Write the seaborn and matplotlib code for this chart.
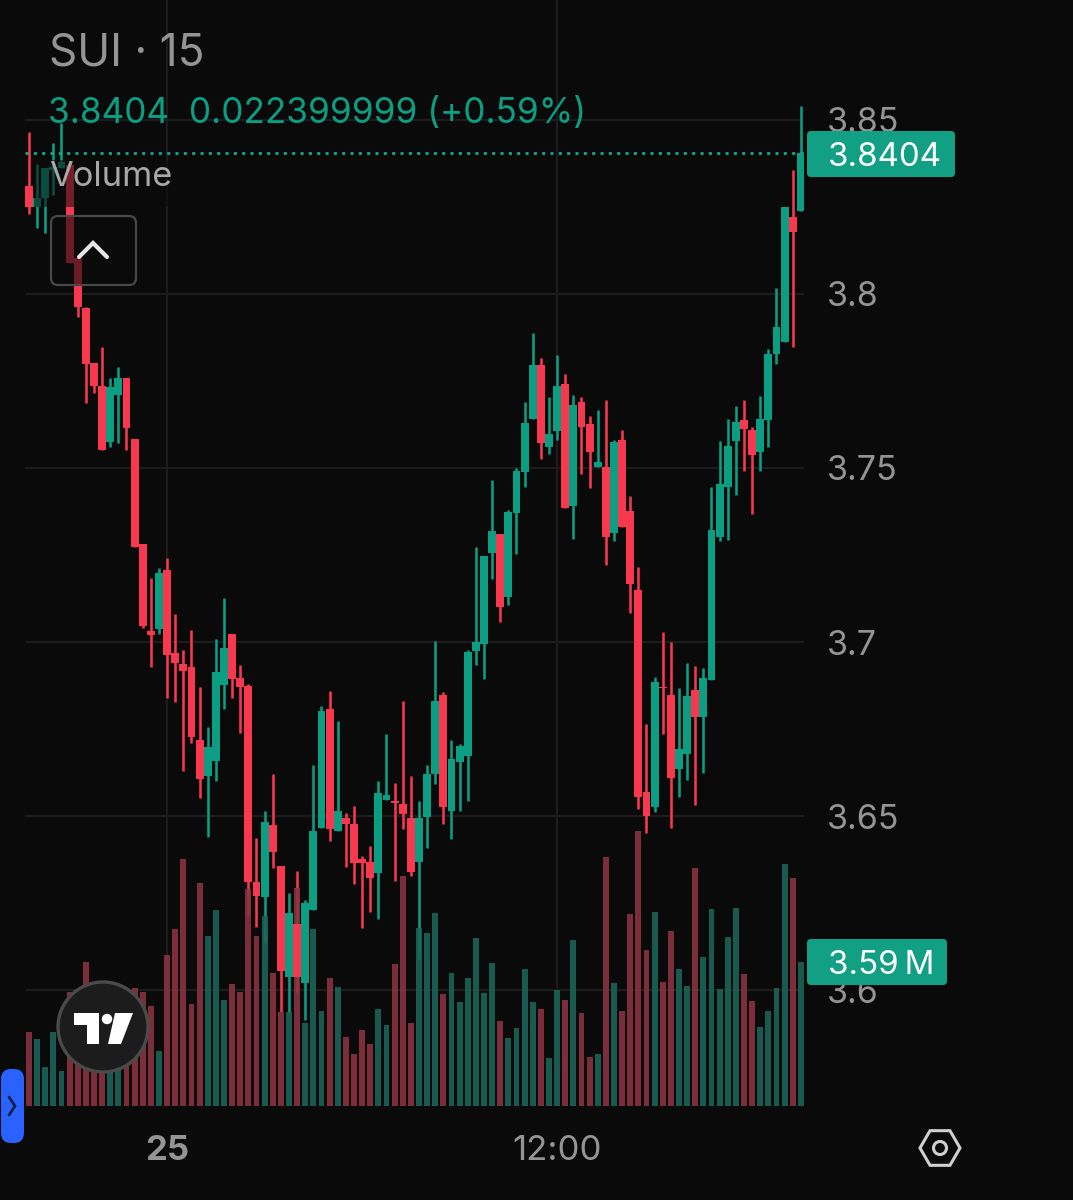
import matplotlib
matplotlib.use('Agg')
import matplotlib.pyplot as plt
from matplotlib.patches import Circle, FancyBboxPatch, Polygon, Rectangle, RegularPolygon
import numpy as np
import pandas as pd
import seaborn as sns

# SUI 15m candles
opens = [3.8310, 3.8250, 3.8276, 3.8356, 3.8362, 3.8371, 3.8103, 3.7960, 3.7802, 3.7736, 3.7575, 3.7710,
         3.7759, 3.7583, 3.7282, 3.7032, 3.7037, 3.7207, 3.6968, 3.6937, 3.6928, 3.6718, 3.6615, 3.6658,
         3.6876, 3.7023, 3.6897, 3.6874, 3.6310, 3.6267, 3.6474, 3.6356, 3.6037, 3.6190, 3.6020, 3.6230,
         3.6466, 3.6807, 3.6457, 3.6494, 3.6477, 3.6376, 3.6368, 3.6336, 3.6546, 3.6543, 3.6534, 3.6494,
         3.6368, 3.6497, 3.6621, 3.6848, 3.6514, 3.6655, 3.6672, 3.6974, 3.6994, 3.7256, 3.7310, 3.7129,
         3.7371, 3.7489, 3.7641, 3.7796, 3.7560, 3.7606, 3.7741, 3.7391, 3.7690, 3.7626, 3.7503, 3.7503,
         3.7313, 3.7580, 3.7376, 3.7149, 3.6569, 3.6526, 3.6871, 3.6848, 3.6635, 3.6678, 3.6862, 3.6784,
         3.6891, 3.7302, 3.7445, 3.7578, 3.7638, 3.7609, 3.7546, 3.7638, 3.7828, 3.7862, 3.8221, 3.8239]
closes = [3.8250, 3.8276, 3.8362, 3.8365, 3.8379, 3.8089, 3.7963, 3.7799, 3.7736, 3.7552, 3.7733, 3.7759,
          3.7615, 3.7273, 3.7046, 3.7020, 3.7198, 3.6963, 3.6940, 3.6917, 3.6727, 3.6606, 3.6698, 3.6914,
          3.6983, 3.6894, 3.6871, 3.6310, 3.6270, 3.6483, 3.6397, 3.6055, 3.6221, 3.6037, 3.6250, 3.6457,
          3.6802, 3.6463, 3.6514, 3.6477, 3.6365, 3.6365, 3.6322, 3.6566, 3.6560, 3.6537, 3.6506, 3.6339,
          3.6494, 3.6621, 3.6830, 3.6526, 3.6664, 3.6701, 3.6971, 3.7000, 3.7247, 3.7319, 3.7101, 3.7374,
          3.7491, 3.7629, 3.7796, 3.7572, 3.7598, 3.7736, 3.7385, 3.7681, 3.7618, 3.7546, 3.7517, 3.7302,
          3.7575, 3.7330, 3.7167, 3.6555, 3.6500, 3.6885, 3.6868, 3.6609, 3.6692, 3.6845, 3.6784, 3.6897,
          3.7322, 3.7454, 3.7563, 3.7632, 3.7612, 3.7537, 3.7641, 3.7828, 3.7905, 3.8250, 3.8178, 3.8404]
highs = [3.8466, 3.8374, 3.8362, 3.8434, 3.8491, 3.8374, 3.8103, 3.7963, 3.7802, 3.7848, 3.7759, 3.7790,
         3.7759, 3.7583, 3.7282, 3.7184, 3.7213, 3.7241, 3.7080, 3.6977, 3.7034, 3.6871, 3.6756, 3.7009,
         3.7126, 3.7023, 3.6934, 3.6879, 3.6437, 3.6514, 3.6621, 3.6356, 3.6279, 3.6342, 3.6259, 3.6646,
         3.6816, 3.6859, 3.6773, 3.6509, 3.6529, 3.6385, 3.6414, 3.6601, 3.6736, 3.6595, 3.6830, 3.6615,
         3.6543, 3.6646, 3.7003, 3.6856, 3.6718, 3.6707, 3.6977, 3.7273, 3.7247, 3.7466, 3.7310, 3.7379,
         3.7500, 3.7690, 3.7888, 3.7816, 3.7704, 3.7825, 3.7770, 3.7710, 3.7704, 3.7649, 3.7667, 3.7695,
         3.7580, 3.7609, 3.7420, 3.7216, 3.6764, 3.6899, 3.7029, 3.7000, 3.6868, 3.6940, 3.6931, 3.6925,
         3.7445, 3.7578, 3.7641, 3.7678, 3.7695, 3.7618, 3.7707, 3.7842, 3.8017, 3.8250, 3.8356, 3.8540]
lows = [3.8230, 3.8190, 3.8175, 3.8284, 3.8362, 3.8089, 3.7934, 3.7687, 3.7716, 3.7552, 3.7560, 3.7572,
        3.7552, 3.7273, 3.7040, 3.6928, 3.7023, 3.6839, 3.6828, 3.6629, 3.6710, 3.6552, 3.6440, 3.6601,
        3.6807, 3.6839, 3.6738, 3.6216, 3.6181, 3.6135, 3.6351, 3.5937, 3.5934, 3.5994, 3.5914, 3.6230,
        3.6466, 3.6428, 3.6457, 3.6353, 3.6305, 3.6178, 3.6224, 3.6204, 3.6546, 3.6313, 3.6463, 3.6328,
        3.6089, 3.6408, 3.6592, 3.6477, 3.6434, 3.6514, 3.6543, 3.6934, 3.6894, 3.7181, 3.7057, 3.7106,
        3.7253, 3.7445, 3.7641, 3.7526, 3.7540, 3.7580, 3.7385, 3.7296, 3.7483, 3.7442, 3.7503, 3.7221,
        3.7290, 3.7330, 3.7083, 3.6520, 3.6451, 3.6511, 3.6736, 3.6466, 3.6555, 3.6603, 3.6532, 3.6624,
        3.6891, 3.7290, 3.7293, 3.7422, 3.7491, 3.7368, 3.7491, 3.7560, 3.7799, 3.7862, 3.7848, 3.8239]
# volume in millions
volumes = [1.85, 1.67, 0.97, 1.85, 0.87, 2.84, 2.52, 3.59, 2.64, 2.14, 1.90, 1.77,
           2.64, 2.94, 2.84, 2.49, 1.37, 3.77, 4.41, 6.16, 2.54, 5.56, 4.24, 4.89,
           2.64, 3.04, 2.84, 5.41, 4.24, 4.74, 3.32, 2.34, 2.34, 5.44, 2.07, 4.41,
           2.37, 3.19, 2.97, 1.72, 1.30, 1.90, 1.55, 2.42, 2.02, 3.54, 5.74, 2.07,
           4.44, 4.31, 4.81, 2.79, 3.32, 2.59, 3.19, 4.19, 2.82, 3.57, 2.12, 1.70,
           1.95, 3.42, 2.59, 2.42, 1.20, 2.89, 2.64, 4.14, 2.32, 1.22, 1.30, 6.21,
           3.07, 2.37, 4.79, 6.86, 3.89, 4.84, 3.09, 4.36, 3.42, 2.99, 5.94, 3.72,
           4.91, 2.92, 4.21, 4.94, 3.29, 2.62, 1.97, 2.37, 2.94, 6.03, 5.69, 3.59]

price_ticks = [3.6, 3.65, 3.7, 3.75, 3.8, 3.85]
price_labels = ['3.6', '3.65', '3.7', '3.75', '3.8', '3.85']
time_ticks = [17, 65]
time_labels = ['25', '12:00']

BG = '#0a0a0a'
GREEN = '#0b9e83'
RED = '#f8384f'
VOL_GREEN = '#1b6659'
VOL_RED = '#8c3340'
GRID = '#1c1c1c'
TEXT = '#949494'
LABEL = '#12a085'

W, H = 1073, 1200

sns.set_theme(style='dark', rc={'figure.facecolor': BG, 'axes.facecolor': BG, 'savefig.facecolor': BG})
plt.rcParams['font.family'] = ['Inter', 'DejaVu Sans']

df = pd.DataFrame({'i': np.arange(len(opens)), 'open': opens, 'high': highs, 'low': lows,
                   'close': closes, 'volume': volumes})
df['side'] = np.where(df['close'] >= df['open'], 'up', 'down')
df['top'] = df[['open', 'close']].max(axis=1)
df['bottom'] = df[['open', 'close']].min(axis=1)

fig = plt.figure(figsize=(W / 100, H / 100), dpi=100)
rect = [25 / W, (H - 1106) / H, 779 / W, 1106 / H]

# price axis: grid and wicks
ax = fig.add_axes(rect)
x_lim = (-0.49, 95.39)
price_lim = (3.56667, 3.88448)
ax.set_xlim(x_lim)
ax.set_ylim(price_lim)
for spine in ax.spines.values():
    spine.set_visible(False)
ax.hlines(price_ticks, *x_lim, color=GRID, lw=1.6, zorder=1)
ax.vlines(time_ticks, *price_lim, color=GRID, lw=1.6, zorder=1)
side_colors = df['side'].map({'up': GREEN, 'down': RED})
ax.vlines(df['i'], df['low'], df['high'], colors=side_colors, lw=1.85, zorder=2)
ax.hlines(closes[-1], *x_lim, color='#12a98c', lw=2.0, linestyles=(0, (1.1, 1.9)), zorder=2)

# volume sits over the wicks but under the bodies
ax_vol = ax.twinx()
ax_vol.patch.set_visible(False)
sns.barplot(data=df, x='i', y='volume', hue='side', palette={'up': VOL_GREEN, 'down': VOL_RED},
            native_scale=True, dodge=False, width=0.72, errorbar=None, saturation=1,
            alpha=0.88, linewidth=0, legend=False, ax=ax_vol)
ax_vol.set_ylim(0, 27.58)
ax_vol.set_xlim(x_lim)
ax_vol.axis('off')

ax_body = ax.twinx()
ax_body.patch.set_visible(False)
ax_body.set_ylim(price_lim)
ax_body.bar(df['i'], df['top'] - df['bottom'], bottom=df['bottom'], width=0.97,
            color=side_colors, linewidth=0)
ax_body.axis('off')

# twinx flips the ticks to the left, so set them once the twins exist
ax.yaxis.tick_right()
ax.set_yticks(price_ticks, price_labels)
ax.set_xticks(time_ticks, time_labels)
ax.tick_params(axis='y', length=0, pad=16.5, labelsize=24.5, labelcolor=TEXT)
ax.tick_params(axis='x', length=0, pad=21, labelsize=25, labelcolor=TEXT)
ax.get_xticklabels()[0].set_fontweight('bold')

# everything that belongs to the app UI, in pixels
ui = fig.add_axes([0, 0, 1, 1], facecolor='none')
ui.set_xlim(0, W)
ui.set_ylim(H, 0)
ui.axis('off')

ui.text(49, 53, 'SUI · 15', color=TEXT, fontsize=31.8, va='center')
ui.text(48, 113, '3.8404  0.022399999 (+0.59%)', color=GREEN, fontsize=25.3, va='center')

# legend row dims what is under it
ui.add_patch(Rectangle((34, 160), 138, 47, color=BG, alpha=0.55, lw=0))
ui.text(49, 177, 'Volume', color='#a8a8a8', fontsize=24.8, va='center')
ui.add_patch(FancyBboxPatch((51, 216), 85, 69, boxstyle='round,pad=0,rounding_size=7',
                            fc=BG + '99', ec='#484848', lw=1.6))
ui.plot([79, 93, 107], [257, 243, 257], color='#e6e6e6', lw=3, solid_capstyle='round',
        solid_joinstyle='miter')

# price and volume tags
ui.add_patch(FancyBboxPatch((807, 131), 148, 46, boxstyle='round,pad=0,rounding_size=4', fc=LABEL, ec='none'))
ui.text(828, 157, f'{closes[-1]:.4f}', color='white', fontsize=23.8, va='center')
ui.add_patch(FancyBboxPatch((807, 939), 140, 46, boxstyle='round,pad=0,rounding_size=4', fc=LABEL, ec='none'))
ui.text(828, 965, f'{volumes[-1]:.2f}\u2009M', color='white', fontsize=23.8, va='center')

# logo badge
ui.add_patch(Circle((103, 1027), 45, fc='#1c1c1c', ec='#4a4a4a', lw=2.4))
ui.add_patch(Polygon([(74, 1013), (99, 1013), (99, 1044), (87, 1044), (87, 1025), (74, 1025)], fc='white', ec='none'))
ui.add_patch(Circle((107, 1019), 5.2, fc='white', ec='none'))
ui.add_patch(Polygon([(115, 1013), (133, 1013), (121, 1044), (108, 1044)], fc='white', ec='none'))

# blue side tab
ui.add_patch(FancyBboxPatch((1, 1069), 23, 74, boxstyle='round,pad=0,rounding_size=10', fc='#2962ff', ec='none'))
ui.plot([9, 15, 9], [1097, 1106, 1115], color='#10204a', lw=2, solid_capstyle='round')

# settings icon
ui.add_patch(RegularPolygon((940, 1148), 6, radius=20, orientation=np.pi / 2, fc='none', ec='#d0d0d0', lw=2.2))
ui.add_patch(Circle((940, 1148), 6.5, fc='none', ec='#d0d0d0', lw=2.2))

fig.savefig('out.png', dpi=100)
